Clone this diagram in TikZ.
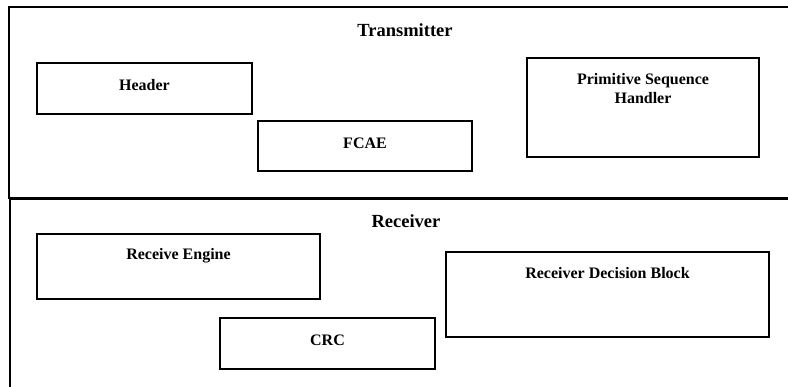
\documentclass[tikz,border=0pt]{standalone}
\usepackage{fontspec}
\setmainfont{Liberation Serif}
\begin{document}
\begin{tikzpicture}[x=1pt,y=-1pt,
  frame/.style={draw, line width=2pt, inner sep=0pt},
  blk/.style={draw, line width=1.8pt, inner sep=0pt},
  lbl/.style={anchor=base, font=\fontsize{16}{19}\selectfont\bfseries, inner sep=0pt, align=center},
  ttl/.style={anchor=base, font=\fontsize{18.5}{22}\selectfont\bfseries, inner sep=0pt}]
  \clip (0,0) rectangle (788,386);
  \fill[white] (0,0) rectangle (788,386);

  % Transmitter section
  \node[frame, minimum width=791pt, minimum height=190.5pt] (tx) at (404.5,102.25) {};
  \node[ttl] (txt) at (405,36) {Transmitter};
  \node[blk, minimum width=215pt, minimum height=51pt] (hdr) at (144.5,88.5) {};
  \node[lbl] (hdrt) at (144.5,90.5) {Header};
  \node[blk, minimum width=214pt, minimum height=50pt] (fcae) at (365,146) {};
  \node[lbl] (fcaet) at (365,148.5) {FCAE};
  \node[blk, minimum width=232pt, minimum height=99pt] (psh) at (643,107.5) {};
  \node[lbl] (psht) at (643,84.3) {Primitive Sequence};
  \node[lbl] (psht2) at (643,103.3) {Handler};

  % Receiver section
  \node[frame, minimum width=790pt, minimum height=201.5pt] (rx) at (405,299.25) {};
  \node[ttl] (rxt) at (406,227) {Receiver};
  \node[blk, minimum width=283pt, minimum height=65pt] (reng) at (178.5,266.2) {};
  \node[lbl] (rengt) at (178.5,259.3) {Receive Engine};
  \node[blk, minimum width=215pt, minimum height=51pt] (crc) at (327.5,343.2) {};
  \node[lbl] (crct) at (327.5,345) {CRC};
  \node[blk, minimum width=323pt, minimum height=85pt] (rdb) at (607.5,294.3) {};
  \node[lbl] (rdbt) at (607.5,278.7) {Receiver Decision Block};
\end{tikzpicture}
\end{document}
